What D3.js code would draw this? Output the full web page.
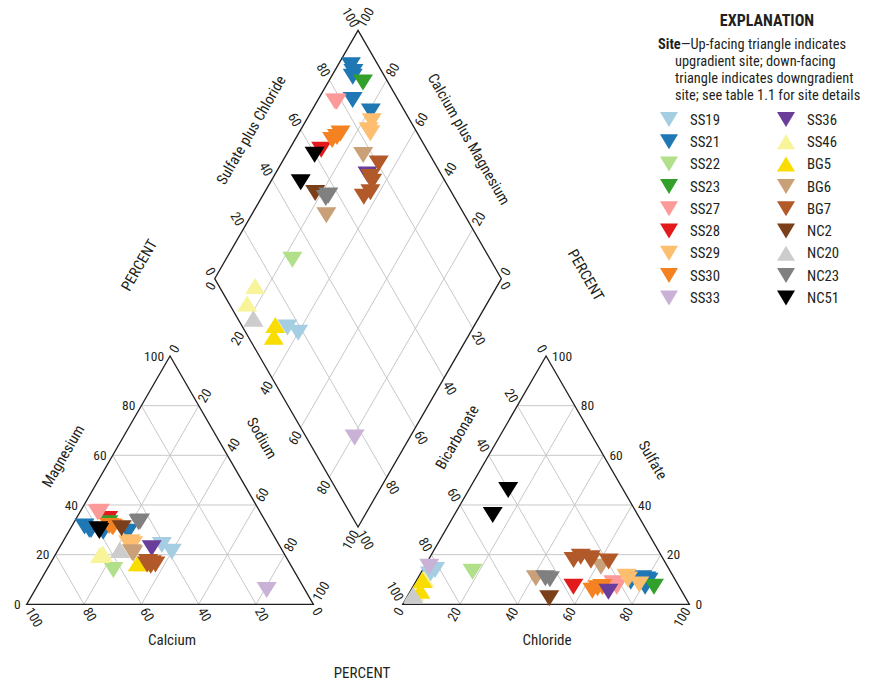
<!DOCTYPE html>
<html>
<head>
<meta charset="utf-8">
<script src="https://cdn.jsdelivr.net/npm/d3@7"></script>
<style>
  html, body { margin: 0; padding: 0; background: #fff; }
  svg { display: block; }
  text { font-family: 'Liberation Sans Narrow', 'Roboto Condensed', 'DejaVu Sans Condensed', 'Liberation Sans', sans-serif; fill: #231f20; }
</style>
</head>
<body>
<svg id="chart" width="882" height="681"></svg>
<script>
// ---------------- DATA ----------------
const sites   = ["SS19","SS21","SS22","SS23","SS27","SS28","SS29","SS30","SS33","SS36","SS46","BG5","BG6","BG7","NC2","NC20","NC23","NC51"];
const colors  = ["#a6cee3","#1f78b4","#b2df8a","#33a02c","#fb9a99","#e31a1c","#fdbf6f","#f58220","#cab2d6","#6a3d9a","#f7f49a","#f9dc00","#c9a077","#b15928","#7b3f1a","#cccccc","#808080","#000000"];
const facing  = ["down","down","down","down","down","down","down","down","down","down","up","up","down","down","down","up","down","down"];

// samples (percent of milliequivalents)
const sampleSite = ["SS19","SS19","SS21","SS21","SS21","SS21","SS21","SS22","SS28","SS23","SS27","SS27","SS29","SS29","SS29","SS30","SS30","SS30","SS33","SS36","SS46","SS46","BG5","BG5","BG6","BG6","BG7","BG7","BG7","BG7","BG7","NC2","NC20","NC23","NC23","NC51","NC51"];
const sampleMg   = [23.9,21.2, 31.3,30.0,29.9,29.2,29.2, 13.8, 34.4, 32.6, 37.3,37.0, 24.6,25.0,24.2, 31.3,31.5,31.0, 5.8, 22.6, 19.9,20.5, 16.5,16.5, 20.5,21.0, 16.0,17.0,16.5,15.5,16.0, 30.6, 21.9, 33.3,33.0, 30.2,29.5];
const sampleNa   = [35.2,40.0, 4.5,6.8,7.5,12.1,20.8, 23.3, 11.2, 12.2, 6.9,6.3, 23.1,23.8,25.0, 14.1,13.0,14.6, 80.8, 32.3, 15.6,16.3, 30.5,32.3, 26.9,26.2, 34.0,33.8,35.4,35.5,36.9, 17.8, 21.6, 22.9,22.5, 9.9,10.6];
const sampleCa   = sampleNa.map((v,i)=>+(100-v-sampleMg[i]).toFixed(1));
const sampleSO4  = [12.0,13.8, 9.5,10.0,10.5,9.1,7.1, 13.1, 7.1, 7.1, 7.1,8.5, 8.0,11.1,10.0, 6.5,5.5,7.0, 15.1, 5.1, 10.0,4.5, 9.8,5.5, 15.1,10.5, 17.2,18.5,17.5,17.8,19.2, 2.4, 3.7, 10.1,10.5, 46.0,36.0];
const sampleCl   = [3.5,4.4, 81.0,80.0,78.3,75.0,81.0, 17.8, 56.0, 84.1, 71.1,69.2, 78.5,72.5,73.6, 64.7,63.4,66.1, 1.7, 69.2, 2.6,1.8, 2.0,3.4, 61.6,41.2, 63.2,56.3,56.9,50.7,52.5, 49.9, 1.8, 46.3,44.5, 13.8,13.4];
const sampleHCO3 = sampleCl.map((v,i)=>+(100-v-sampleSO4[i]).toFixed(1));

const gridTicks  = [20,40,60,80];
const tickLabels = [0,20,40,60,80,100];

const legendTitle = "EXPLANATION";
const legendLines = ["—Up-facing triangle indicates","upgradient site; down-facing","triangle indicates downgradient","site; see table 1.1 for site details"];

// ---------------- LAYOUT ----------------
const svg = d3.select("#chart");
const L = 286.7, H = L*Math.sqrt(3)/2;
const baseY = 604.3;
const leftX0 = 26.7, rightX0 = 402.7;
const gap = rightX0 - (leftX0 + L);
const Bv = [leftX0 + L + gap/2, baseY - (gap/2)*Math.sqrt(3)];
const Lv = [Bv[0] - L/2, Bv[1] - H];

const sx = d3.scaleLinear().domain([0,100]).range([0,L]);   // along-base distance
const sy = d3.scaleLinear().domain([0,100]).range([0,H]);   // height

// cation triangle: (Mg up, Na right)
const cat = (mg, na) => [leftX0 + sx(na) + sx(mg)/2, baseY - sy(mg)];
// anion triangle: (SO4 up, Cl right)
const an  = (so4, cl) => [rightX0 + sx(cl) + sx(so4)/2, baseY - sy(so4)];
// diamond: na along lower-left edge, s = SO4+Cl along upper-left edge
const dia = (na, s) => [Lv[0] + sx(na)/2 + sx(s)/2, Lv[1] + sy(na) - sy(s)];

const line = d3.line();
const gGrid = svg.append("g").attr("stroke","#c8c8c8").attr("stroke-width",1).attr("fill","none");
const gridSegs = [];
gridTicks.forEach(k => {
  gridSegs.push([cat(k,0), cat(k,100-k)]);
  gridSegs.push([cat(0,k), cat(100-k,k)]);
  gridSegs.push([cat(0,100-k), cat(100-k,0)]);
  gridSegs.push([an(k,0), an(k,100-k)]);
  gridSegs.push([an(0,k), an(100-k,k)]);
  gridSegs.push([an(0,100-k), an(100-k,0)]);
  gridSegs.push([dia(k,0), dia(k,100)]);
  gridSegs.push([dia(0,k), dia(100,k)]);
});
gGrid.selectAll("path").data(gridSegs).join("path").attr("d", d => line(d));

const gOut = svg.append("g").attr("stroke","#231f20").attr("stroke-width",1.3).attr("fill","none").attr("stroke-linejoin","miter");
const outlines = [
  [cat(0,0), cat(0,100), cat(100,0)],
  [an(0,0), an(0,100), an(100,0)],
  [dia(0,0), dia(100,0), dia(100,100), dia(0,100)]
];
gOut.selectAll("path").data(outlines).join("path").attr("d", d => line(d) + "Z");

// ---------------- TICK LABELS ----------------
const gT = svg.append("g").attr("font-size", 13.5);
const c60 = 0.5, s60 = Math.sqrt(3)/2, off = 5;
function tick(p, txt, rot, anchor, dir, dist) {
  const d = dist === undefined ? off : dist;
  const x = p[0] + dir[0]*d, y = p[1] + dir[1]*d;
  gT.append("text").attr("x", x).attr("y", y).attr("dy","0.35em")
    .attr("text-anchor", anchor)
    .attr("transform", rot ? `rotate(${rot},${x},${y})` : null)
    .text(txt);
}
tickLabels.forEach(k => {
  tick(cat(k,0), k, 0, "end", [-1,0], 6);                       // Magnesium
  tick(cat(0,100-k), k, 60, "start", [c60,s60]);                // Calcium
  tick(cat(100-k,k), k, -60, "start", [c60,-s60]);              // Sodium
  tick(an(k,100-k), k, 0, "start", [1,0], 6);                   // Sulfate
  tick(an(0,k), k, -60, "end", [-c60,s60]);                     // Chloride
  tick(an(100-k,0), k, 60, "end", [-c60,-s60]);                 // Bicarbonate
  tick(dia(0,k), k, 60, "end", [-c60,-s60]);                    // Sulfate plus Chloride
  tick(dia(100-k,100), k, -60, "start", [c60,-s60]);            // Calcium plus Magnesium
  tick(dia(k,0), k, -60, "end", [-c60,s60]);                    // Sodium (diamond)
  tick(dia(100,100-k), k, 60, "start", [c60,s60]);              // Bicarbonate (diamond)
});

// ---------------- AXIS TITLES ----------------
const titles = [
  {t:"Magnesium", x:63, y:456, r:-60},
  {t:"Sodium", x:262, y:438, r:60},
  {t:"Calcium", x:172, y:640, r:0},
  {t:"Bicarbonate", x:457, y:437, r:-60},
  {t:"Sulfate", x:653, y:460, r:60},
  {t:"Chloride", x:547, y:640, r:0},
  {t:"Sulfate plus Chloride", x:251, y:130, r:-60},
  {t:"Calcium plus Magnesium", x:469, y:139, r:60},
  {t:"PERCENT", x:139, y:265, r:-60},
  {t:"PERCENT", x:586, y:275, r:60},
  {t:"PERCENT", x:362, y:673, r:0}
];
svg.append("g").attr("font-size",15).selectAll("text").data(titles).join("text")
  .attr("x", d=>d.x).attr("y", d=>d.y).attr("dy","0.35em").attr("text-anchor","middle")
  .attr("transform", d => d.r ? `rotate(${d.r},${d.x},${d.y})` : null)
  .text(d=>d.t);

// ---------------- MARKERS ----------------
const color = d3.scaleOrdinal().domain(sites).range(colors);
const face  = d3.scaleOrdinal().domain(sites).range(facing);
function tri(w, h, dir) {
  return dir === "up"
    ? `M${-w/2},${h/2}L${w/2},${h/2}L0,${-h/2}Z`
    : `M${-w/2},${-h/2}L${w/2},${-h/2}L0,${h/2}Z`;
}
const samples = sampleSite.map((s,i)=>({site:s, ca:sampleCa[i], mg:sampleMg[i], na:sampleNa[i], hco3:sampleHCO3[i], so4:sampleSO4[i], cl:sampleCl[i]}));
const gM = svg.append("g");
const pts = [];
samples.forEach(d => {
  pts.push({site:d.site, p:cat(d.mg, d.na)});
  pts.push({site:d.site, p:an(d.so4, d.cl)});
  pts.push({site:d.site, p:dia(d.na, d.so4 + d.cl)});
});
gM.selectAll("path").data(pts).join("path")
  .attr("transform", d => `translate(${d.p[0]},${d.p[1]})`)
  .attr("d", d => tri(20, 16, face(d.site)))
  .attr("fill", d => color(d.site));

// ---------------- LEGEND ----------------
const gL = svg.append("g");
gL.append("text").attr("x",767).attr("y",26).attr("text-anchor","middle").attr("font-weight","bold").attr("font-size",16).text(legendTitle);
const t1 = gL.append("text").attr("x",658).attr("y",49).attr("font-size",14.4);
t1.append("tspan").attr("font-weight","bold").text("Site");
t1.append("tspan").text(legendLines[0]);
legendLines.slice(1).forEach((s,i)=>{
  gL.append("text").attr("x",675).attr("y",66 + i*17).attr("font-size",14.4).text(s);
});
const rows = 9;
const items = gL.selectAll("g.item").data(sites).join("g").attr("class","item")
  .attr("transform",(d,i)=>`translate(${i<rows?669:786},${119.5 + (i%rows)*22.3})`);
items.append("path").attr("d", d => tri(18, 15, face(d))).attr("fill", d => color(d));
items.append("text").attr("x",21).attr("dy","0.35em").attr("font-size",14.8).text(d=>d);
</script>
</body>
</html>
